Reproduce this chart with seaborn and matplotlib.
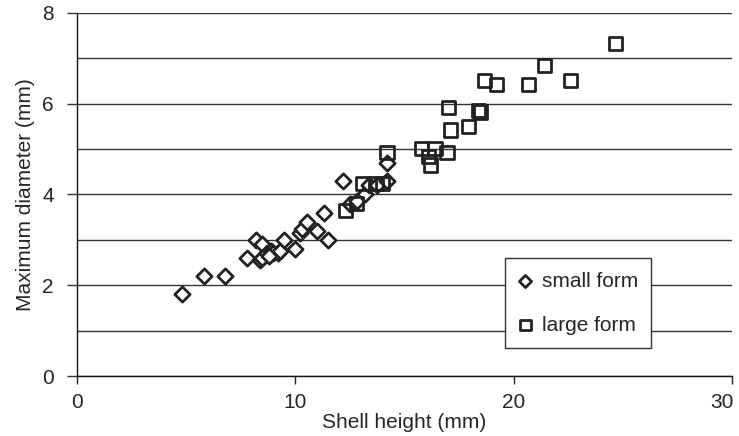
import matplotlib
matplotlib.use("Agg")
import matplotlib.pyplot as plt
from matplotlib.transforms import ScaledTranslation
import seaborn as sns
import pandas as pd

small_x = [4.8, 5.8, 6.8, 7.8, 8.2, 8.5, 8.4, 8.5, 8.7, 8.9, 9.0, 9.2, 9.3, 8.8, 9.5,
           10.0, 10.2, 10.3, 10.55, 11.0, 11.5, 11.3, 12.2, 12.5, 12.85, 13.2, 13.4,
           13.75, 14.2, 14.2]
small_y = [1.8, 2.2, 2.2, 2.6, 3.0, 2.9, 2.55, 2.6, 2.7, 2.75, 2.7, 2.7, 2.75, 2.65, 3.0,
           2.8, 3.15, 3.25, 3.4, 3.2, 3.0, 3.6, 4.3, 3.8, 3.85, 4.0, 4.2,
           4.22, 4.3, 4.7]
large_x = [12.3, 12.8, 13.1, 13.7, 14.0, 14.2, 15.8, 16.4, 16.1, 16.2, 16.95, 17.0,
           17.1, 17.95, 18.4, 18.5, 18.65, 19.2, 20.7, 21.4, 22.6, 24.65]
large_y = [3.65, 3.8, 4.25, 4.25, 4.25, 4.93, 5.02, 5.02, 4.83, 4.65, 4.92, 5.92,
           5.42, 5.5, 5.85, 5.82, 6.52, 6.43, 6.43, 6.84, 6.52, 7.33]
labels = ["small form", "large form"]
x_ticks = [0, 10, 20, 30]
y_ticks = [0, 2, 4, 6, 8]

sns.set_style("white")
plt.rcParams['font.family'] = ['Liberation Sans', 'DejaVu Sans']

fig = plt.figure(figsize=(7.39, 4.36), dpi=100)
ax = fig.add_axes([0.104, 0.1376, 0.8865, 0.8326])

df_s = pd.DataFrame({"x": small_x, "y": small_y})
df_l = pd.DataFrame({"x": large_x, "y": large_y})

ec = "#222222"
sns.scatterplot(data=df_s, x="x", y="y", marker="D", s=60, facecolor="white",
                edgecolor=ec, linewidth=2.0, ax=ax, label=labels[0], zorder=3)
sns.scatterplot(data=df_l, x="x", y="y", marker="s", s=90, facecolor="none",
                edgecolor=ec, linewidth=2.0, ax=ax, label=labels[1], zorder=4)

FS = 15
ax.set_xlim(0, 30)
ax.set_ylim(0, 8)
ax.set_xticks(x_ticks)
ax.set_yticks(y_ticks)
ax.set_yticks([1, 3, 5, 7], minor=True)
ax.grid(True, axis="y", which="both", color="#333333", linewidth=1.0)
ax.set_axisbelow(True)
ax.tick_params(axis="y", which="major", length=7.5, width=1.0, color="#333333",
               pad=9, labelsize=FS, left=True)
ax.tick_params(axis="y", which="minor", length=0)
ax.tick_params(axis="x", length=6, width=1.0, color="#222222", pad=6, labelsize=FS,
               bottom=True)
for side in ["top", "right"]:
    ax.spines[side].set_visible(False)
for side in ["left", "bottom"]:
    ax.spines[side].set_color("#111111")
    ax.spines[side].set_linewidth(1.0)

ax.set_xlabel("Shell height (mm)", fontsize=FS, labelpad=1)
ax.set_ylabel("Maximum diameter (mm)", fontsize=FS, labelpad=5)

leg = ax.legend(loc="lower left", bbox_to_anchor=(0.653, 0.077), fontsize=FS,
                frameon=True, fancybox=False, shadow=False, borderpad=0.65,
                labelspacing=1.2, handlelength=0.7, handletextpad=0.42,
                borderaxespad=0, markerscale=0.8)
leg.get_frame().set_edgecolor("#333333")
leg.get_frame().set_linewidth(1.0)
leg.get_frame().set_alpha(1)

fig.canvas.draw()
last = ax.get_xticklabels()[-1]
last.set_transform(last.get_transform() + ScaledTranslation(-7 / 72, 0, fig.dpi_scale_trans))

fig.savefig("out.png", dpi=100)
